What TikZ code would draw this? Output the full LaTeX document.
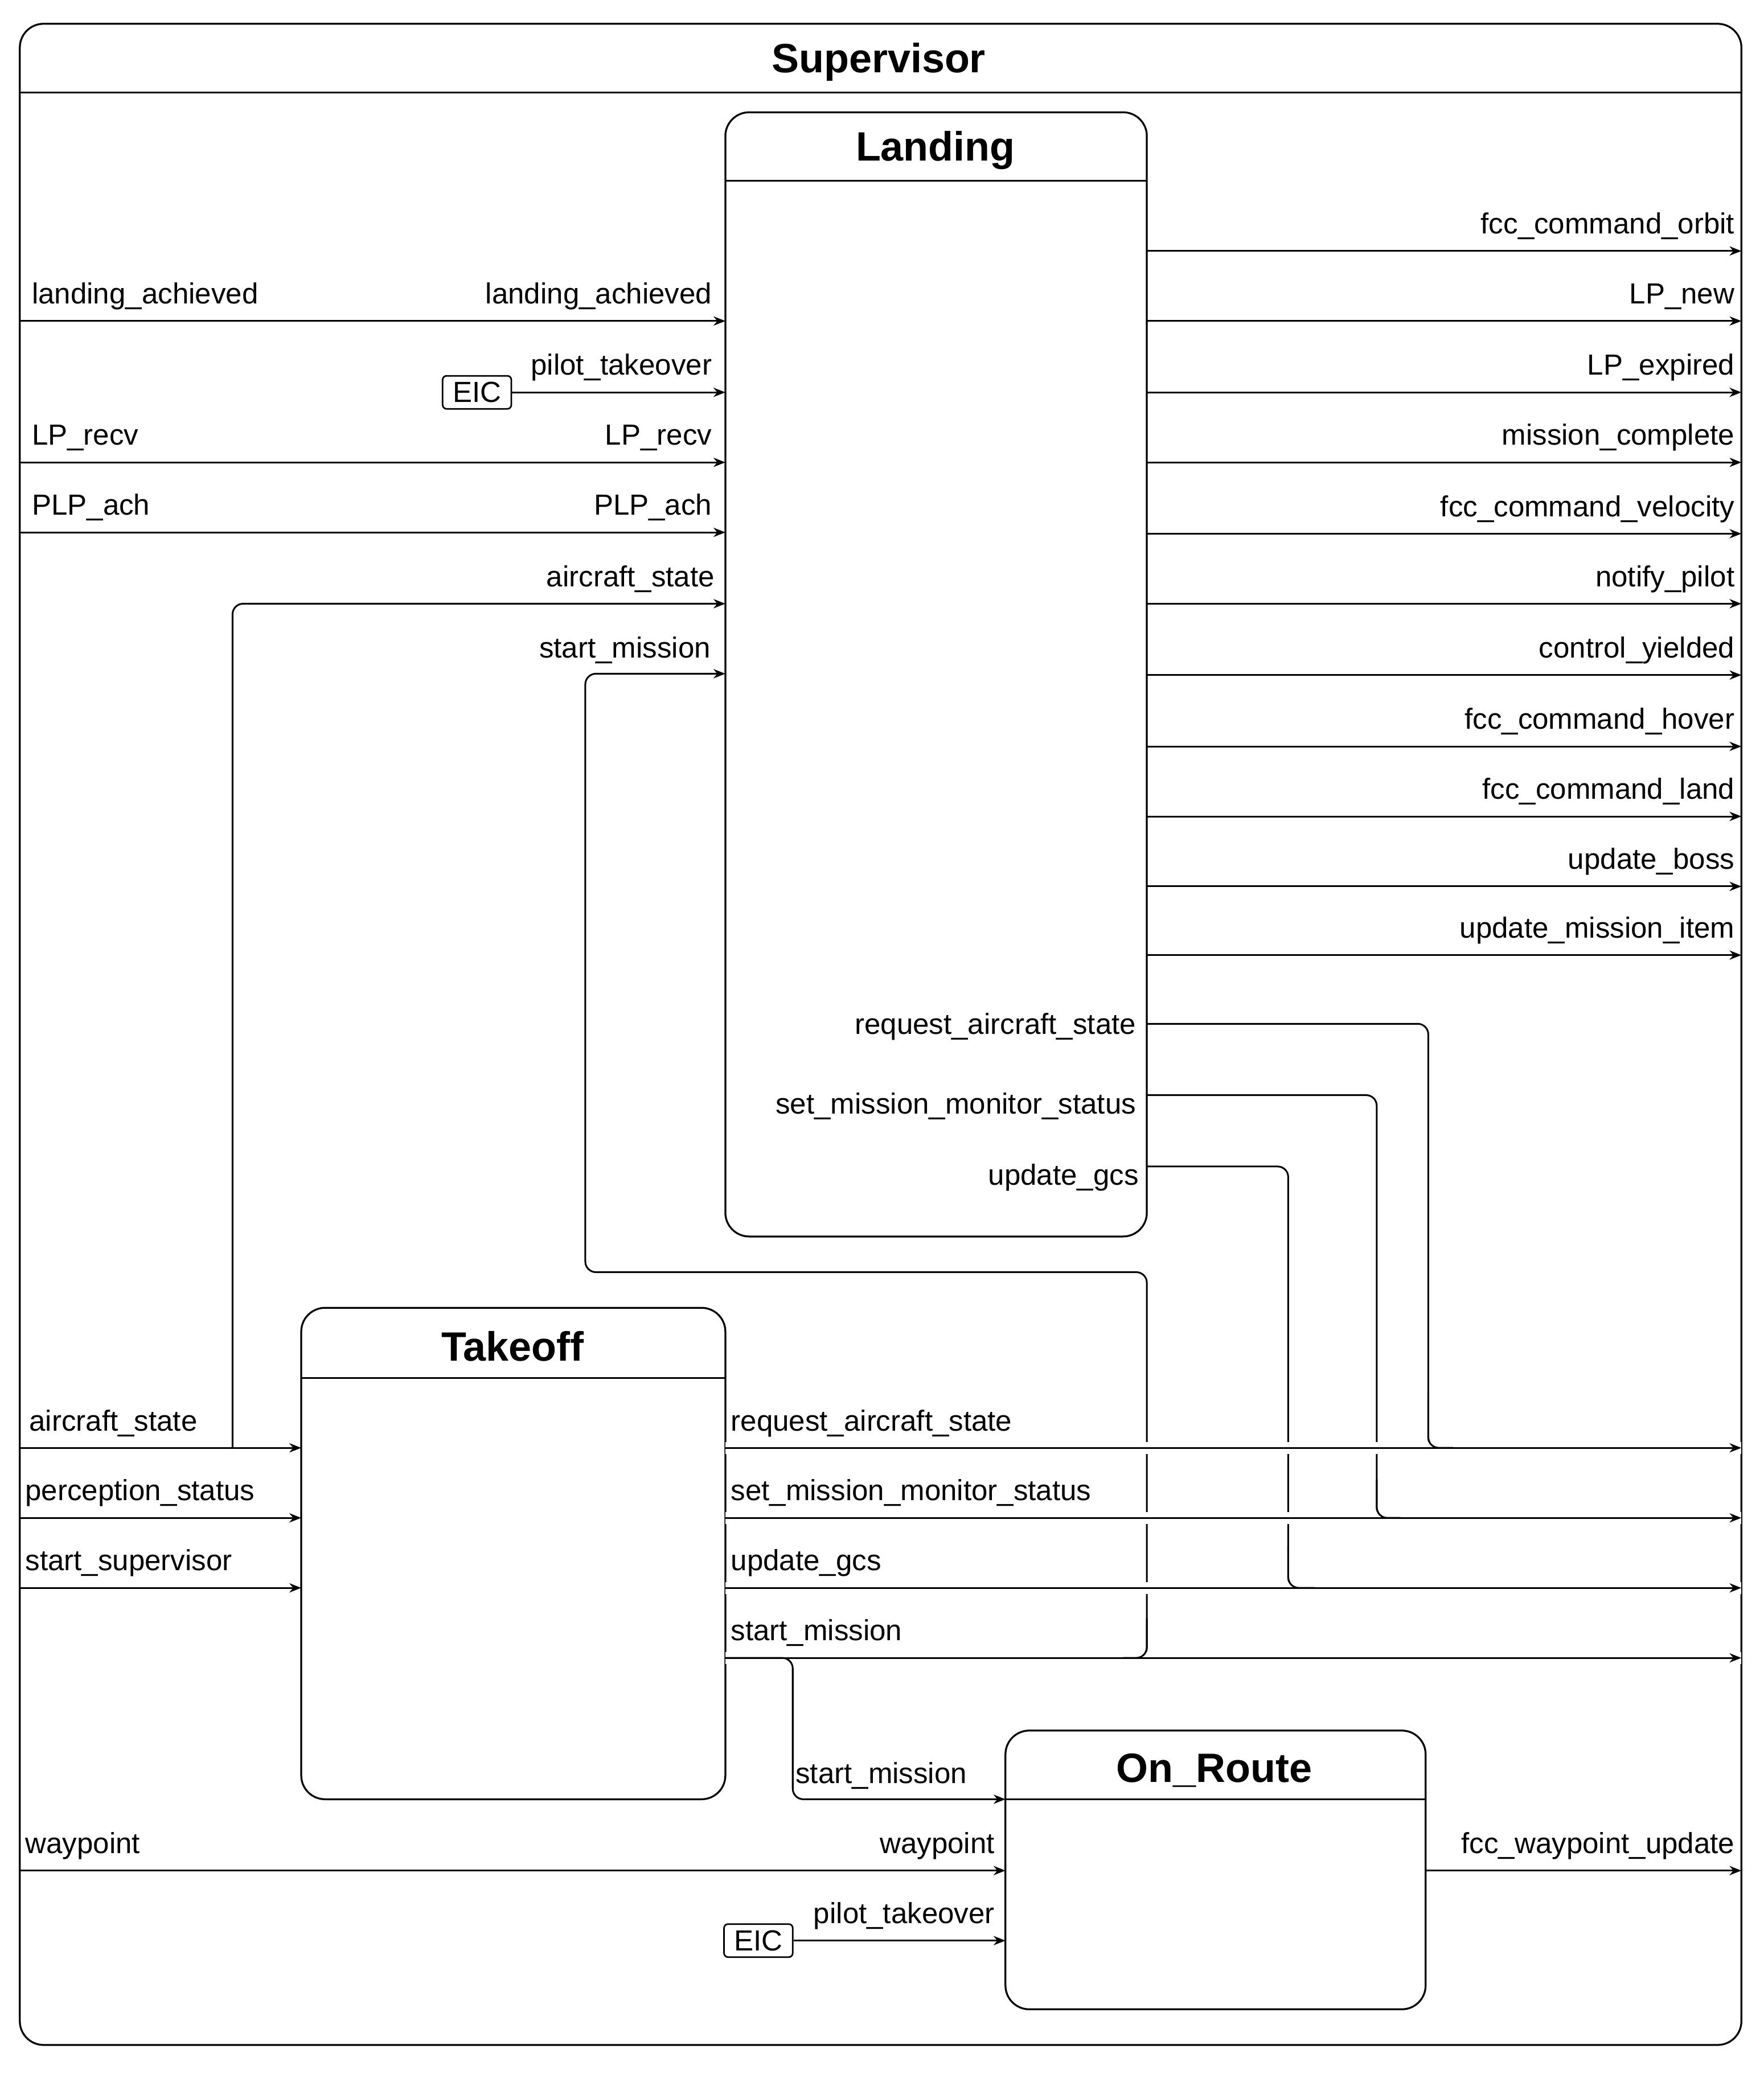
\documentclass[tikz,border=0pt]{standalone}
\usepackage{fontspec}
\setmainfont{Liberation Sans}
\usetikzlibrary{arrows.meta}
\begin{document}
\begin{tikzpicture}[x=1pt,y=-1pt,
  every node/.style={font=\fontsize{22}{24}\selectfont, inner sep=0pt},
  box/.style={draw, line width=1.4pt, rounded corners=18pt},
  ttl/.style={font=\fontsize{31}{34}\selectfont\bfseries},
  sig/.style={line width=1.3pt, -{Stealth[length=9pt,width=7pt]}},
  wire/.style={line width=1.3pt, rounded corners=8pt},
  halo/.style={preaction={draw=white, line width=9pt, -}},
  lr/.style={anchor=base east},
  ll/.style={anchor=base west},
  eic/.style={draw, line width=1.2pt, rounded corners=3pt, minimum width=52pt, minimum height=25pt}]
\useasboundingbox (0,0) rectangle (1335,1570);
% outer
\draw[box] (15,18) rectangle (1318,1548);
\draw[line width=1.2pt] (15,70) -- (1318,70);
\node[ttl] (sup) at (665,47) {Supervisor};
% Landing
\draw[box] (549,85) rectangle (868,936);
\draw[line width=1.2pt] (549,137) -- (868,137);
\node[ttl] (landing) at (708,114) {Landing};
% Takeoff
\draw[box] (228,990) rectangle (549,1362);
\draw[line width=1.2pt] (228,1043) -- (549,1043);
\node[ttl] (takeoff) at (388,1019) {Takeoff};
% On_Route
\draw[box] (761,1310) rectangle (1079,1521);
\draw[line width=1.2pt] (761,1362) -- (1079,1362);
\node[ttl] (onroute) at (919,1340) {On\_Route};

% Landing inputs
\foreach \y/\l/\r in {243/landing\_achieved/landing\_achieved, 350/LP\_recv/LP\_recv, 403/PLP\_ach/PLP\_ach}{
  \coordinate (a) at (15,\y); \coordinate (b) at (549,\y);
  \draw[sig] (a) -- (b);
  \node[ll] at (24,\y-13) {\l};
  \node[lr] at (539,\y-13) {\r};
}
\node[eic] (eic1) at (361,297) {EIC};
\coordinate (lpt) at (549,297);
\draw[sig] (eic1.east) -- (lpt);
\node[lr] at (539,284) {pilot\_takeover};
% aircraft_state
\coordinate (as0) at (15,1096);
\coordinate (as1) at (176,1096);
\coordinate (as2) at (176,457);
\coordinate (las) at (549,457);
\draw[wire,sig] (as1) -- (as2) -- (las);
\node[lr] at (541,444) {aircraft\_state};
\coordinate (tas) at (228,1096);
\draw[sig] (as0) -- (tas);
\node[ll] at (22,1083) {aircraft\_state};
\coordinate (tps0) at (15,1149); \coordinate (tps) at (228,1149);
\draw[sig] (tps0) -- (tps);
\node[ll] at (19,1136) {perception\_status};
\coordinate (tss0) at (15,1202); \coordinate (tss) at (228,1202);
\draw[sig] (tss0) -- (tss);
\node[ll] at (19,1189) {start\_supervisor};

% Landing right outputs
\foreach \y/\l in {190/fcc\_command\_orbit, 243/LP\_new, 297/LP\_expired, 350/mission\_complete, 404/fcc\_command\_velocity, 457/notify\_pilot, 511/control\_yielded, 565/fcc\_command\_hover, 618/fcc\_command\_land, 671/update\_boss, 723/update\_mission\_item}{
  \coordinate (a) at (868,\y); \coordinate (b) at (1318,\y);
  \draw[sig] (a) -- (b);
  \node[lr] at (1313,\y-13) {\l};
}
% Landing bottom outputs routed
\coordinate (r0) at (868,775);
\draw[wire] (r0) -- (1081,775) -- (1081,1096) -- (1100,1096);
\node[lr] at (860,783) {request\_aircraft\_state};
\coordinate (m0) at (868,829);
\draw[wire] (m0) -- (1042,829) -- (1042,1149) -- (1060,1149);
\node[lr] at (860,843) {set\_mission\_monitor\_status};
\coordinate (g0) at (868,883);
\draw[wire] (g0) -- (975,883) -- (975,1202) -- (995,1202);
\node[lr] at (862,897) {update\_gcs};
% start_mission to Landing
\coordinate (sm0) at (549,1255);
\coordinate (lsm) at (549,510);
\draw[wire,sig] (sm0) -- (868,1255) -- (868,963) -- (443,963) -- (443,510) -- (lsm);
\node[lr] at (538,498) {start\_mission};

% Takeoff outputs with gaps
\foreach \y/\l in {1096/request\_aircraft\_state, 1149/set\_mission\_monitor\_status, 1202/update\_gcs, 1255/start\_mission}{
  \coordinate (a) at (549,\y); \coordinate (b) at (1318,\y);
  \draw[sig,halo] (a) -- (b);
  \node[ll] at (553,\y-13) {\l};
}
\draw[wire] (1081,1060) -- (1081,1096) -- (1100,1096);
\draw[wire] (1042,1120) -- (1042,1149) -- (1060,1149);
\draw[wire] (975,1170) -- (975,1202) -- (995,1202);
\draw[wire] (850,1255) -- (868,1255) -- (868,1225);
% start_mission to On_Route
\coordinate (osm) at (761,1362);
\draw[wire,sig] (sm0) -- (600,1255) -- (600,1362) -- (osm);
\node[ll] at (602,1350) {start\_mission};
% waypoint
\coordinate (w0) at (15,1416); \coordinate (ow) at (761,1416);
\draw[sig] (w0) -- (ow);
\node[ll] at (19,1403) {waypoint};
\node[lr] at (753,1403) {waypoint};
\node[eic] (eic2) at (574,1469) {EIC};
\coordinate (opt) at (761,1469);
\draw[sig] (eic2.east) -- (opt);
\node[lr] at (753,1456) {pilot\_takeover};
\coordinate (fw0) at (1079,1416); \coordinate (fw) at (1318,1416);
\draw[sig] (fw0) -- (fw);
\node[lr] at (1313,1403) {fcc\_waypoint\_update};
\end{tikzpicture}
\end{document}
